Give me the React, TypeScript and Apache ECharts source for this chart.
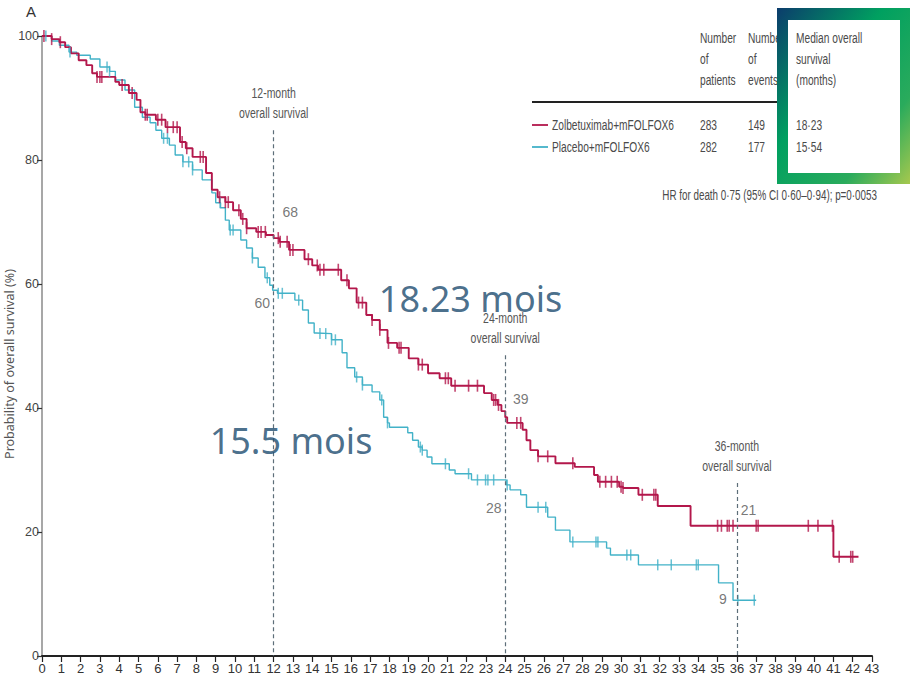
import React, { useEffect, useRef } from "react";
import * as echarts from "echarts";

// Kaplan-Meier knots: [month, survival % after this time]
const zolbKnots: [number, number][] = [
  [0, 100], [0.5, 99.5], [0.9, 99], [1.2, 98.2], [1.5, 97.2], [1.9, 96.1], [2.3, 95.3],
  [2.6, 94], [2.85, 93.4], [3.8, 92.6], [4.0, 92.1], [4.5, 90.8], [4.9, 89.7], [5.1, 87.7],
  [5.35, 87.3], [5.9, 86.5], [6.4, 85.3], [7.15, 82.9], [7.45, 81.9], [7.8, 80.5],
  [8.5, 77.9], [8.8, 75.2], [9.1, 74], [9.5, 73.2], [9.9, 71.9], [10.3, 70.5], [10.6, 69],
  [11.1, 68.4], [11.6, 67.9], [12.0, 67.4], [12.3, 66.8], [12.8, 65.5], [13.6, 64],
  [14.0, 63], [14.3, 62.3], [15.5, 60.6], [15.9, 59.3], [16.3, 57], [16.8, 55], [17.1, 54.2],
  [17.5, 52.6], [17.9, 50.5], [18.4, 49.7], [19.0, 48], [19.5, 47], [20.0, 45.6],
  [20.6, 44.8], [21.2, 43.6], [22.9, 42.4], [23.3, 41.3], [23.6, 40.5], [23.8, 39.5],
  [24.0, 38.5], [24.1, 37.6], [24.9, 36.5], [25.1, 34.8], [25.3, 33.2], [25.7, 32.2],
  [26.6, 31.1], [27.6, 30.5], [28.6, 29.2], [28.8, 28.1], [29.9, 27.3], [30.1, 27.1],
  [30.9, 26], [31.9, 24.2], [33.6, 21], [41.0, 16], [42.3, 16],
];

const placeboKnots: [number, number][] = [
  [0, 100], [0.5, 99.2], [0.9, 98.5], [1.4, 97.4], [1.8, 96.9], [2.5, 96.3], [3.0, 95],
  [3.5, 94.3], [3.8, 92.9], [4.3, 91.3], [4.8, 88.5], [5.2, 86.9], [5.6, 86], [5.9, 84.8],
  [6.2, 83.5], [6.6, 82.4], [6.9, 80.8], [7.3, 79.7], [7.8, 78.4], [8.3, 76.8], [8.8, 74.7],
  [9.0, 73.1], [9.25, 72.3], [9.5, 70.3], [9.7, 68.7], [10.3, 67.1], [10.6, 65.8],
  [10.9, 64.2], [11.2, 62.7], [11.55, 61], [11.8, 59.8], [11.95, 59], [12.2, 58.5],
  [13.1, 57.4], [13.5, 55.8], [13.8, 53.7], [14.1, 52.1], [14.2, 52], [15.0, 51],
  [15.55, 48.9], [15.8, 46.5], [16.2, 45], [16.6, 43.7], [17.1, 42.6], [17.5, 41.3],
  [17.7, 38.5], [17.9, 37.6], [18.0, 36.9], [18.95, 36], [19.2, 34.8], [19.5, 33.7],
  [19.7, 33.2], [19.95, 32.1], [20.2, 31], [21.1, 30], [21.4, 29.4], [22.25, 28.4],
  [24.05, 27.6], [24.25, 26.8], [24.8, 26], [25.1, 24], [26.2, 22.4], [26.6, 20.3],
  [27.35, 18.4], [29.25, 17.4], [29.45, 16.3], [30.9, 14.7], [35.05, 11.8], [35.8, 9],
  [37.0, 9],
];

const zolbCensor: number[] = [
  0.1, 0.5, 0.95, 2.85, 3.0, 3.1, 4.15, 4.67, 5.35, 5.45, 6.0, 6.2, 6.5, 6.8, 7.0, 7.26,
  7.5, 8.2, 8.35, 9.2, 9.5, 9.65, 10.2, 10.4, 10.6, 11.2, 11.35, 11.57, 12.24, 12.34, 12.7,
  12.85, 13.0, 13.8, 14.26, 14.4, 14.6, 15.35, 15.8, 16.4, 16.6, 17.1, 17.5, 17.95, 18.5,
  18.6, 19.5, 19.7, 20.9, 21.05, 21.4, 22.1, 22.56, 23.4, 23.5, 23.65, 24.6, 24.8, 25.7,
  26.2, 27.5, 28.9, 29.2, 29.5, 29.8, 30.0, 30.1, 31.1, 31.7, 31.8, 35.0, 35.2, 35.5, 35.6,
  35.8, 37.0, 37.1, 39.7, 40.2, 40.95, 41.3, 41.9, 42.0,
];

const placeboCensor: number[] = [
  0.2, 1.45, 3.37, 3.5, 6.3, 6.5, 7.3, 7.6, 7.8, 9.23, 9.75, 9.9, 10.9, 11.67, 12.24, 12.45,
  13.3, 14.4, 14.7, 15.0, 15.2, 16.3, 16.6, 17.6, 17.9, 19.6, 19.7, 20.9, 22.1, 22.56,
  22.98, 23.1, 23.4, 24.1, 25.7, 26.1, 27.5, 28.7, 28.8, 30.3, 30.5, 31.9, 32.6, 33.9, 34.0,
  36.05, 36.9,
];

const landmarkMonths = [12, 24, 36];
const landmarkTops = [84.8, 48.5, 27.9];
const landmarkLabels = ["12-month\noverall survival", "24-month\noverall survival", "36-month\noverall survival"];

const rateLabels = ["68", "60", "39", "28", "21", "9"];
const ratePos: [number, number][] = [[12.86, 71.6], [11.41, 56.9], [24.8, 41.5], [23.4, 23.9], [36.6, 23.5], [35.27, 9.2]];

const medianLabels = ["18.23 mois", "15.5 mois"];
const medianPos: [number, number][] = [[22.2, 57.7], [12.9, 34.8]];

const tableHeaders = ["Number\nof\npatients", "Number\nof\nevents", "Median overall\nsurvival\n(months)"];
const armNames = ["Zolbetuximab+mFOLFOX6", "Placebo+mFOLFOX6"];
const armPatients = ["283", "282"];
const armEvents = ["149", "177"];
const armMedians = ["18·23", "15·54"];
const hrText = "HR for death 0·75 (95% CI 0·60–0·94); p=0·0053";

const RED = "#b3174b";
const BLUE = "#42b2c8";
const NARROW = "'Liberation Sans', Arial, sans-serif";
const TXT = "#4a4a4a";
const SX = 0.68;

const stepAt = (knots: [number, number][], t: number) => {
  let v = knots[0][1];
  for (const [x, y] of knots) {
    if (x <= t) v = y;
    else break;
  }
  return v;
};

export default function App() {
  const ref = useRef<HTMLDivElement>(null);
  useEffect(() => {
    if (!ref.current) return;
    const chart = echarts.init(ref.current, null, { renderer: "svg" });
    const colX = [700, 748, 796];
    const txt = (id: string, x: number, y: number, text: string, extra: any = {}, z = 1) => ({
      type: "text", id, x, y, z, scaleX: SX,
      style: { text, fontSize: 15, fill: TXT, fontFamily: NARROW, verticalAlign: "middle", ...extra },
    });
    const graphic: any[] = [
      { type: "text", id: "A", x: 26, y: 4, style: { text: "A", fontSize: 15, fill: "#333", fontFamily: NARROW } },
      {
        type: "text", id: "ytitle", x: 9, y: 364, rotation: Math.PI / 2,
        style: { text: "Probability of overall survival (%)", fontSize: 12.5, fill: "#555", fontFamily: "'Noto Sans', sans-serif", align: "center", verticalAlign: "middle" },
      },
      ...tableHeaders.map((t, i) => txt("h" + i, colX[i], 27, t, { lineHeight: 21, verticalAlign: "top" }, i === 2 ? 30 : 1)),
      { type: "line", id: "rule", shape: { x1: 532, y1: 102, x2: 877, y2: 102 }, style: { stroke: "#222", lineWidth: 1.8 } },
      ...armNames.flatMap((n, i) => {
        const y = 125 + i * 22;
        return [
          { type: "line", id: "lg" + i, shape: { x1: 532, y1: y, x2: 548, y2: y }, style: { stroke: i === 0 ? RED : BLUE, lineWidth: 1.8 } },
          txt("n" + i, 552, y, n),
          txt("p" + i, colX[0], y, armPatients[i]),
          txt("e" + i, colX[1], y, armEvents[i]),
          txt("m" + i, colX[2], y, armMedians[i], {}, 30),
        ];
      }),
      txt("hr", 877, 195, hrText, { fontSize: 14.5, align: "right" }),
      {
        type: "rect", id: "frame", z: 20, shape: { x: 777, y: 8, width: 133, height: 176 },
        style: {
          fill: new echarts.graphic.LinearGradient(0, 0, 1, 1, [
            { offset: 0, color: "#0b3c6c" },
            { offset: 0.4, color: "#00a060" },
            { offset: 0.75, color: "#2aab5c" },
            { offset: 1, color: "#a6c84e" },
          ]),
        },
      },
      { type: "rect", id: "frameIn", z: 21, shape: { x: 788, y: 20, width: 112, height: 153 }, style: { fill: "#fff" } },
    ];

    const option: any = {
      animation: false,
      backgroundColor: "#fff",
      grid: { left: 42, right: 38, top: 36, bottom: 36, containLabel: false },
      xAxis: {
        type: "value", min: 0, max: 43, interval: 1,
        axisLine: { show: true, lineStyle: { color: "#222", width: 2 } },
        axisTick: { show: true, length: 6, lineStyle: { color: "#222", width: 1.2 } },
        axisLabel: { fontSize: 13, color: "#333", margin: 6, fontFamily: NARROW },
        splitLine: { show: false },
      },
      yAxis: {
        type: "value", min: 0, max: 100, interval: 20,
        axisLine: { show: true, lineStyle: { color: "#8a8a8a", width: 1.5 } },
        axisTick: { show: true, length: 5, lineStyle: { color: "#333", width: 1.2 } },
        axisLabel: { fontSize: 12.5, color: "#444", margin: 3, fontFamily: NARROW },
        splitLine: { show: false },
      },
      graphic,
      series: [
        {
          type: "line", step: "end", data: placeboKnots, showSymbol: false, silent: true, z: 2,
          lineStyle: { color: BLUE, width: 1.4 },
        },
        {
          type: "line", step: "end", data: zolbKnots, showSymbol: false, silent: true, z: 3,
          lineStyle: { color: RED, width: 1.9 },
          markLine: {
            silent: true, symbol: ["none", "none"],
            lineStyle: { type: [4, 3], color: "#5d6e79", width: 1.2 },
            label: { show: false },
            data: landmarkMonths.map((m, i) => [
              { coord: [m, landmarkTops[i]] },
              { coord: [m, 0] },
            ]),
          },
        },
        {
          type: "scatter", silent: true, z: 4, symbol: "rect", symbolSize: [1.5, 11],
          itemStyle: { color: BLUE },
          data: placeboCensor.map((t) => [t, stepAt(placeboKnots, t)]),
        },
        {
          type: "scatter", silent: true, z: 5, symbol: "rect", symbolSize: [1.6, 12],
          itemStyle: { color: RED },
          data: zolbCensor.map((t) => [t, stepAt(zolbKnots, t)]),
        },
        {
          type: "scatter", silent: true, z: 6, symbolSize: 0,
          label: { show: true, position: "inside", formatter: "{b}", fontSize: 14, color: "#555", fontFamily: NARROW },
          data: rateLabels.map((n, i) => ({ name: n, value: ratePos[i] })),
        },
        {
          type: "scatter", silent: true, z: 7, symbolSize: 0,
          label: { show: true, position: "inside", formatter: "{b}", fontSize: 36, color: "#1b4a6e", fontFamily: "'Noto Sans', sans-serif" },
          data: medianLabels.map((n, i) => ({ name: n, value: medianPos[i] })),
        },
      ],
    };
    chart.setOption(option);
    // landmark captions placed above each dashed line through the axes' scales
    const extra = landmarkMonths.map((m, i) => {
      const p = chart.convertToPixel({ gridIndex: 0 }, [m, landmarkTops[i]]) as number[];
      return {
        type: "text", id: "lm" + i, x: p[0], y: p[1] - 7, scaleX: 0.75,
        style: { text: landmarkLabels[i], fontSize: 14, lineHeight: 20, fill: "#555", fontFamily: NARROW, align: "center", verticalAlign: "bottom" },
      };
    });
    chart.setOption({ graphic: [...graphic, ...extra] });
    return () => chart.dispose();
  }, []);
  return <div ref={ref} style={{ position: "fixed", left: 0, top: 0, width: 910, height: 692 }} />;
}
